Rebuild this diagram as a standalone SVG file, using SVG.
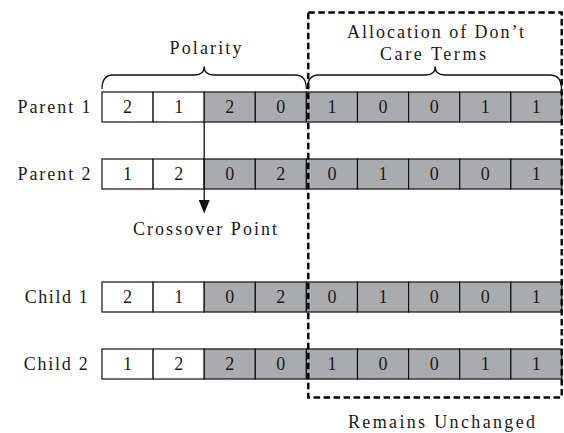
<svg xmlns="http://www.w3.org/2000/svg" width="564" height="433" viewBox="0 0 564 433">
<style>
text{font-family:"Liberation Serif","Times New Roman",serif;font-size:18px;fill:#1a1a1a}
.c{text-anchor:middle}
.lab{text-anchor:end}
.w{fill:#ffffff;stroke:#111;stroke-width:1.2}
.g{fill:#aaabae;stroke:#111;stroke-width:1.2}
.brace{fill:none;stroke:#111;stroke-width:1.3}
.dash{fill:none;stroke:#000;stroke-width:2.4;stroke-dasharray:6.5 3.5}
</style>
<defs>
<g id="cells">
<rect class="w" x="102" y="0" width="51.1" height="30"/>
<rect class="w" x="153.1" y="0" width="51.1" height="30"/>
<rect class="g" x="204.2" y="0" width="51.1" height="30"/>
<rect class="g" x="255.3" y="0" width="51.1" height="30"/>
<rect class="g" x="306.4" y="0" width="51.1" height="30"/>
<rect class="g" x="357.5" y="0" width="51.1" height="30"/>
<rect class="g" x="408.6" y="0" width="51.1" height="30"/>
<rect class="g" x="459.7" y="0" width="51.1" height="30"/>
<rect class="g" x="510.8" y="0" width="51.1" height="30"/>
</g>
</defs>

<g id="brace-polarity">
<path class="brace" d="M102,89 Q102,75 113,75 L195,75 Q204.2,75 204.2,66.5 Q204.2,75 213.5,75 L295,75 Q306.4,75 306.4,89"/>
<text class="c" x="205.5" y="54" textLength="72" lengthAdjust="spacing">Polarity</text>
</g>

<g id="brace-allocation">
<path class="brace" d="M307.5,89 Q307.5,75 318.5,75 L426,75 Q435.2,75 435.2,66.5 Q435.2,75 444.5,75 L550,75 Q561.5,75 561.5,89"/>
<text class="c" x="435.6" y="38.3" textLength="177" lengthAdjust="spacing">Allocation of Don’t</text>
<text class="c" x="433" y="60" textLength="106" lengthAdjust="spacing">Care Terms</text>
</g>

<g id="parent1" transform="translate(0,92)">
<use href="#cells"/>
<text class="lab" x="90.5" y="21" textLength="73" lengthAdjust="spacing">Parent 1</text>
<text class="c" x="127.55" y="21">2</text>
<text class="c" x="178.65" y="21">1</text>
<text class="c" x="229.75" y="21">2</text>
<text class="c" x="280.85" y="21">0</text>
<text class="c" x="331.95" y="21">1</text>
<text class="c" x="383.05" y="21">0</text>
<text class="c" x="434.15" y="21">0</text>
<text class="c" x="485.25" y="21">1</text>
<text class="c" x="536.35" y="21">1</text>
</g>

<g id="parent2" transform="translate(0,159)">
<use href="#cells"/>
<text class="lab" x="90.5" y="21" textLength="73" lengthAdjust="spacing">Parent 2</text>
<text class="c" x="127.55" y="21">1</text>
<text class="c" x="178.65" y="21">2</text>
<text class="c" x="229.75" y="21">0</text>
<text class="c" x="280.85" y="21">2</text>
<text class="c" x="331.95" y="21">0</text>
<text class="c" x="383.05" y="21">1</text>
<text class="c" x="434.15" y="21">0</text>
<text class="c" x="485.25" y="21">0</text>
<text class="c" x="536.35" y="21">1</text>
</g>

<g id="child1" transform="translate(0,282)">
<use href="#cells"/>
<text class="lab" x="87.7" y="21" textLength="63" lengthAdjust="spacing">Child 1</text>
<text class="c" x="127.55" y="21">2</text>
<text class="c" x="178.65" y="21">1</text>
<text class="c" x="229.75" y="21">0</text>
<text class="c" x="280.85" y="21">2</text>
<text class="c" x="331.95" y="21">0</text>
<text class="c" x="383.05" y="21">1</text>
<text class="c" x="434.15" y="21">0</text>
<text class="c" x="485.25" y="21">0</text>
<text class="c" x="536.35" y="21">1</text>
</g>

<g id="child2" transform="translate(0,349)">
<use href="#cells"/>
<text class="lab" x="87.7" y="21" textLength="64" lengthAdjust="spacing">Child 2</text>
<text class="c" x="127.55" y="21">1</text>
<text class="c" x="178.65" y="21">2</text>
<text class="c" x="229.75" y="21">2</text>
<text class="c" x="280.85" y="21">0</text>
<text class="c" x="331.95" y="21">1</text>
<text class="c" x="383.05" y="21">0</text>
<text class="c" x="434.15" y="21">0</text>
<text class="c" x="485.25" y="21">1</text>
<text class="c" x="536.35" y="21">1</text>
</g>

<g id="connectors">
<line x1="204.2" y1="122" x2="204.2" y2="201" stroke="#111" stroke-width="1.3"/>
<polygon points="198.7,200 209.7,200 204.2,213.5" fill="#111"/>
</g>

<g id="crossover-label">
<text class="c" x="205" y="235" textLength="144" lengthAdjust="spacing">Crossover Point</text>
</g>

<g id="unchanged-box">
<rect class="dash" x="308.3" y="12.5" width="253.4" height="385"/>
<text class="c" x="441.5" y="427.5" textLength="187" lengthAdjust="spacing">Remains Unchanged</text>
</g>
</svg>
